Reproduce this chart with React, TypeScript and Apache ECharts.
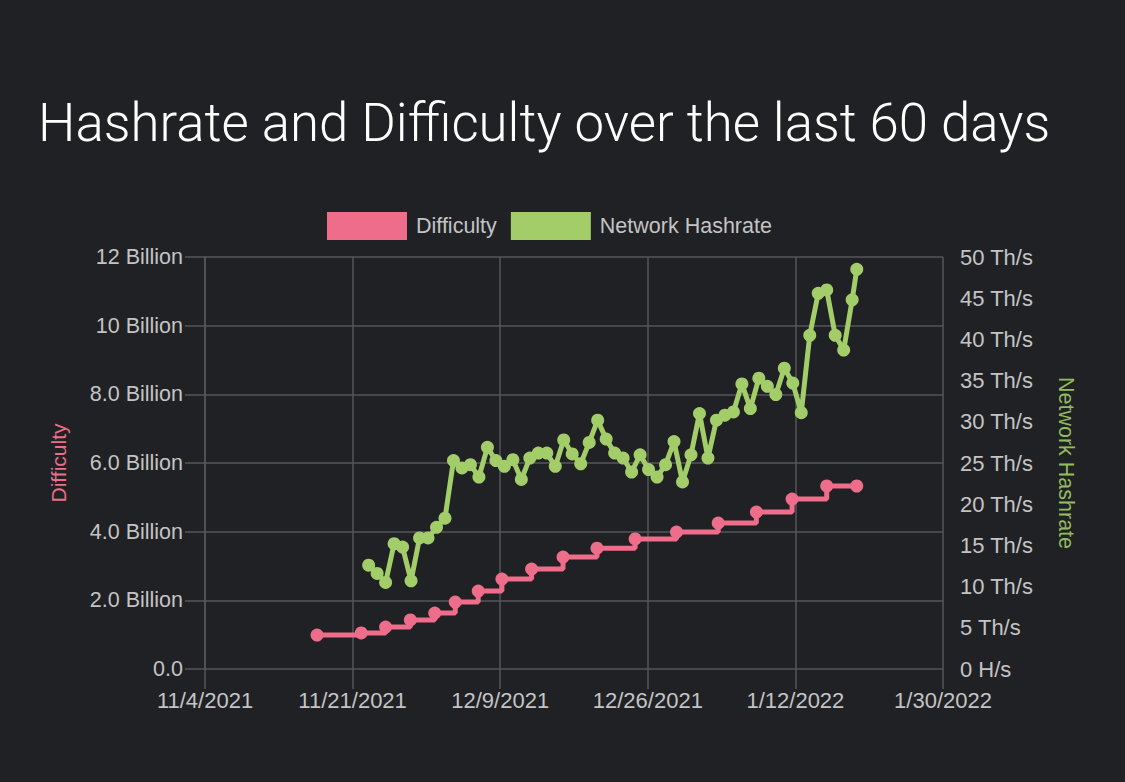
import React, { useEffect, useRef } from "react";
import * as echarts from "echarts";

// X axis (time) tick labels, evenly spaced from 11/4/2021 to 1/30/2022
const xTickLabels = ["11/4/2021", "11/21/2021", "12/9/2021", "12/26/2021", "1/12/2022", "1/30/2022"];
const xStart = "2021-11-04T00:00";
const xEnd = "2022-01-30T00:00";

// Left axis (Difficulty, in billions)
const leftTickLabels = ["0.0", "2.0 Billion", "4.0 Billion", "6.0 Billion", "8.0 Billion", "10 Billion", "12 Billion"];
// Right axis (Network Hashrate, Th/s)
const rightTickLabels = ["0 H/s", "5 Th/s", "10 Th/s", "15 Th/s", "20 Th/s", "25 Th/s", "30 Th/s", "35 Th/s", "40 Th/s", "45 Th/s", "50 Th/s"];

// Difficulty (billions)
const difficultyDates = [
  "2021-11-17T05:00", "2021-11-22T10:00", "2021-11-25T07:00", "2021-11-28T05:00",
  "2021-12-01T02:00", "2021-12-03T12:00", "2021-12-06T05:00", "2021-12-09T00:00",
  "2021-12-12T12:00", "2021-12-16T05:00", "2021-12-20T05:00", "2021-12-24T17:00",
  "2021-12-29T14:00", "2022-01-03T12:00", "2022-01-08T00:00", "2022-01-12T05:00",
  "2022-01-16T07:00", "2022-01-19T20:00",
];
const difficultyValues = [
  0.99, 1.05, 1.22, 1.43, 1.63, 1.95, 2.27, 2.62, 2.91, 3.26, 3.52, 3.79, 3.99, 4.25, 4.57, 4.95, 5.33, 5.33,
];

// Network hashrate (Th/s)
const hashrateDates = [
  "2021-11-23T07:00", "2021-11-24T07:00", "2021-11-25T07:00", "2021-11-26T07:00", "2021-11-27T07:00",
  "2021-11-28T07:00", "2021-11-29T07:00", "2021-11-30T07:00", "2021-12-01T07:00", "2021-12-02T07:00",
  "2021-12-03T07:00", "2021-12-04T07:00", "2021-12-05T07:00", "2021-12-06T07:00", "2021-12-07T07:00",
  "2021-12-08T07:00", "2021-12-09T07:00", "2021-12-10T07:00", "2021-12-11T07:00", "2021-12-12T07:00",
  "2021-12-13T07:00", "2021-12-14T07:00", "2021-12-15T07:00", "2021-12-16T07:00", "2021-12-17T07:00",
  "2021-12-18T07:00", "2021-12-19T07:00", "2021-12-20T07:00", "2021-12-21T07:00", "2021-12-22T07:00",
  "2021-12-23T07:00", "2021-12-24T07:00", "2021-12-25T07:00", "2021-12-26T07:00", "2021-12-27T07:00",
  "2021-12-28T07:00", "2021-12-29T07:00", "2021-12-30T07:00", "2021-12-31T07:00", "2022-01-01T07:00",
  "2022-01-02T07:00", "2022-01-03T07:00", "2022-01-04T07:00", "2022-01-05T07:00", "2022-01-06T07:00",
  "2022-01-07T07:00", "2022-01-08T07:00", "2022-01-09T07:00", "2022-01-10T07:00", "2022-01-11T07:00",
  "2022-01-12T07:00", "2022-01-13T07:00", "2022-01-14T07:00", "2022-01-15T07:00", "2022-01-16T07:00",
  "2022-01-17T07:00", "2022-01-18T07:00", "2022-01-19T07:00", "2022-01-19T20:00",
];
const hashrateValues = [
  12.6, 11.6, 10.5, 15.2, 14.8, 10.7, 15.9, 15.9, 17.2, 18.3,
  25.3, 24.4, 24.8, 23.3, 26.9, 25.3, 24.6, 25.4, 23.0, 25.6,
  26.2, 26.2, 24.6, 27.8, 26.1, 24.9, 27.5, 30.2, 27.9, 26.2,
  25.6, 23.9, 26.0, 24.2, 23.3, 24.8, 27.6, 22.7, 26.0, 31.0,
  25.6, 30.2, 30.8, 31.2, 34.6, 31.6, 35.3, 34.3, 33.3, 36.5,
  34.7, 31.1, 40.5, 45.6, 46.0, 40.5, 38.7, 44.8, 48.5,
];

const toTime = (s: string) => Date.parse(s + ":00Z");

const PINK = "#ee6d8a";
const GREEN = "#a3cd69";
const GRID = "#55565a";
const LABEL = "#c4c4c4";
const FONT = "Liberation Sans, Arial, sans-serif";

export default function App() {
  const ref = useRef<HTMLDivElement>(null);
  useEffect(() => {
    const chart = echarts.init(ref.current!, null, { renderer: "svg" });
    const xMin = toTime(xStart);
    const xMax = toTime(xEnd);
    const xInterval = (xMax - xMin) / (xTickLabels.length - 1);
    chart.setOption({
      animation: false,
      backgroundColor: "#202124",
      title: {
        text: "Hashrate and Difficulty over the last 60 days",
        left: 33,
        top: 91,
        textStyle: { color: "#ffffff", fontFamily: "Roboto", fontWeight: 300, fontSize: 52.8 },
      },
      legend: {
        left: 322,
        top: 207,
        itemWidth: 80,
        itemHeight: 28,
        itemGap: 14,
        icon: "rect",
        textStyle: { color: LABEL, fontSize: 21.5, fontFamily: FONT, padding: [0, 0, 0, 4] },
        data: ["Difficulty", "Network Hashrate"],
      },
      grid: { left: 205, right: 182, top: 257, bottom: 113, containLabel: false },
      xAxis: {
        type: "value",
        min: xMin,
        max: xMax,
        interval: xInterval,
        axisLine: { show: false },
        axisTick: { show: true, length: 20, lineStyle: { color: GRID, width: 1.5 } },
        splitLine: { show: true, lineStyle: { color: GRID, width: 1.5 } },
        axisLabel: {
          color: LABEL,
          fontSize: 22,
          fontFamily: FONT,
          margin: 20,
          formatter: (v: number) => xTickLabels[Math.round((v - xMin) / xInterval)] ?? "",
        },
      },
      yAxis: [
        {
          type: "value",
          min: 0,
          max: 12,
          interval: 2,
          name: "Difficulty",
          nameLocation: "middle",
          nameRotate: 90,
          nameGap: 136,
          nameTextStyle: { color: PINK, fontSize: 21, fontFamily: FONT },
          axisLine: { show: true, lineStyle: { color: GRID, width: 1.5 } },
          axisTick: { show: true, length: 20, lineStyle: { color: GRID, width: 1.5 } },
          splitLine: { show: true, lineStyle: { color: GRID, width: 1.5 } },
          axisLabel: {
            color: LABEL,
            fontSize: 21.5,
            fontFamily: FONT,
            margin: 22,
            formatter: (v: number) => leftTickLabels[Math.round(v / 2)] ?? "",
          },
        },
        {
          type: "value",
          min: 0,
          max: 50,
          interval: 5,
          position: "right",
          name: "Network Hashrate",
          nameLocation: "middle",
          nameRotate: -90,
          nameGap: 112,
          nameTextStyle: { color: "#93bb5e", fontSize: 21.5, fontFamily: FONT },
          axisLine: { show: false },
          axisTick: { show: false },
          splitLine: { show: false },
          axisLabel: {
            color: LABEL,
            fontSize: 22,
            fontFamily: FONT,
            margin: 17,
            formatter: (v: number) => rightTickLabels[Math.round(v / 5)] ?? "",
          },
        },
      ],
      series: [
        {
          name: "Difficulty",
          type: "line",
          yAxisIndex: 0,
          step: "end",
          data: difficultyDates.map((d, i) => [toTime(d), difficultyValues[i]]),
          symbol: "circle",
          symbolSize: 13,
          lineStyle: { color: PINK, width: 5 },
          itemStyle: { color: PINK },
          z: 3,
        },
        {
          name: "Network Hashrate",
          type: "line",
          yAxisIndex: 1,
          data: hashrateDates.map((d, i) => [toTime(d), hashrateValues[i]]),
          symbol: "circle",
          symbolSize: 13,
          lineStyle: { color: GREEN, width: 5 },
          itemStyle: { color: GREEN },
          z: 2,
        },
      ],
    });
    return () => chart.dispose();
  }, []);
  return (
    <div
      ref={ref}
      style={{ position: "fixed", left: 0, top: 0, width: 1125, height: 782, background: "#202124" }}
    />
  );
}
